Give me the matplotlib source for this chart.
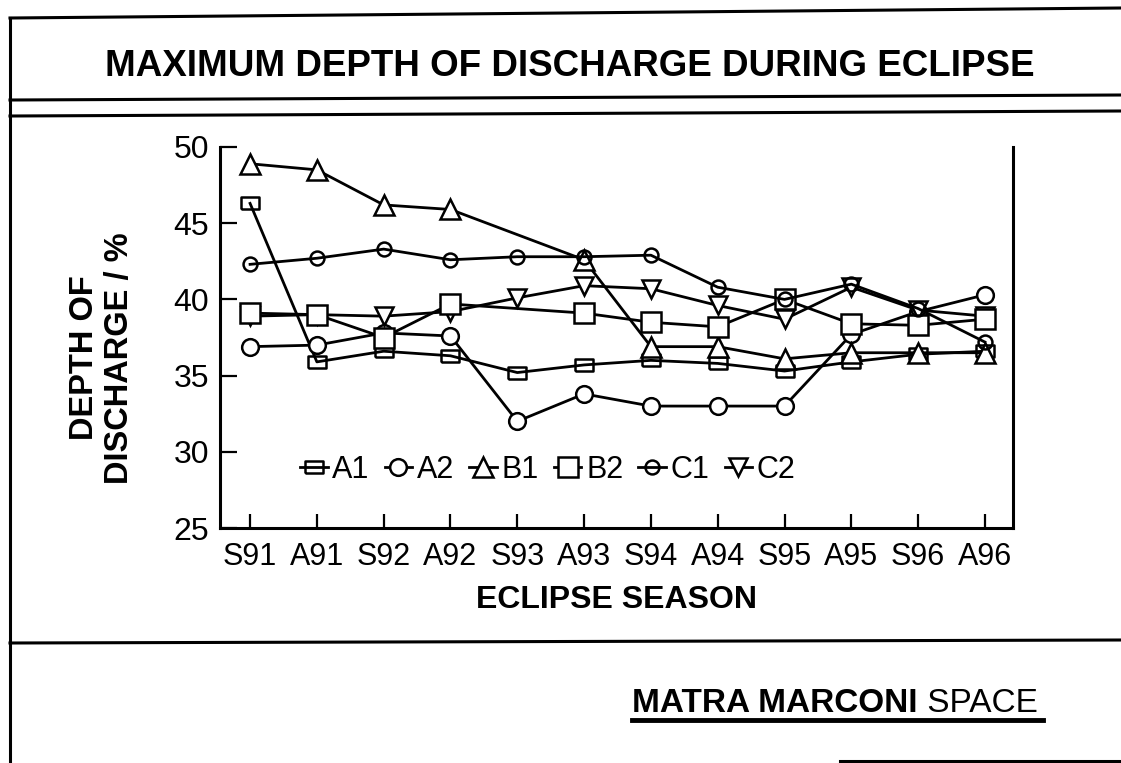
import matplotlib
matplotlib.use('Agg')
import matplotlib.pyplot as plt
from matplotlib.lines import Line2D
import numpy as np

plt.rcParams['font.family'] = ['Liberation Sans', 'DejaVu Sans']

seasons = ['S91', 'A91', 'S92', 'A92', 'S93', 'A93', 'S94', 'A94', 'S95', 'A95', 'S96', 'A96']
a1 = [46.3, 35.9, 36.6, 36.3, 35.2, 35.7, 36.0, 35.8, 35.3, 35.9, 36.4, 36.6]
a2 = [36.9, 37.0, 37.8, 37.6, 32.0, 33.8, 33.0, 33.0, 33.0, 37.7, 39.2, 40.3]
b1 = [48.9, 48.5, 46.2, 45.9, np.nan, 42.6, 36.9, 36.9, 36.1, 36.5, 36.5, 36.5]
b2 = [39.1, 39.0, 37.5, 39.7, np.nan, 39.1, 38.5, 38.2, 40.0, 38.4, 38.3, 38.7]
c1 = [42.3, 42.7, 43.3, 42.6, 42.8, 42.8, 42.9, 40.8, 40.0, 41.0, 39.4, 37.2]
c2 = [38.9, 39.0, 38.9, 39.2, 40.1, 40.9, 40.7, 39.6, 38.7, 40.8, 39.3, 38.9]

W, H = 1121, 763
fig = plt.figure(figsize=(W / 100, H / 100), dpi=100)

def fx(x):
    return x / W

def fy(y):
    return 1 - y / H

# axes box in pixels: left 220, right 1013, top 147, bottom 528
ax = fig.add_axes([fx(220), fy(528), (1013 - 220) / W, (528 - 147) / H])

rect = [(-1, -0.7), (1, -0.7), (1, 0.7), (-1, 0.7), (-1, -0.7)]
styles = [
    ('A1', a1, dict(marker=rect, ms=13, mfc='none', zorder=3)),
    ('A2', a2, dict(marker='o', ms=12, mfc='white', zorder=3)),
    ('B1', b1, dict(marker='^', ms=14, mfc='white', zorder=4)),
    ('B2', b2, dict(marker='s', ms=14, mfc='white', zorder=5)),
    ('C1', c1, dict(marker='o', ms=10, mfc='none', zorder=6)),
    ('C2', c2, dict(marker='v', ms=13, mfc='white', zorder=4)),
]

x = np.arange(len(seasons))
for name, vals, kw in styles:
    v = np.array(vals, dtype=float)
    ok = ~np.isnan(v)
    ax.plot(x[ok], v[ok], color='black', lw=2.0, mec='black', mew=1.8,
            label=name, **kw)

ax.set_xlim(-0.45, 11.42)
ax.set_ylim(25, 50)
ax.set_xticks(x)
ax.set_xticklabels(seasons)
ax.set_yticks([25, 30, 35, 40, 45, 50])
ax.tick_params(axis='both', direction='in', width=1.6, colors='black')
ax.tick_params(axis='y', length=12, pad=8, labelsize=23)
ax.tick_params(axis='x', length=10, pad=10, labelsize=22)
ax.spines['top'].set_visible(False)
for s in ['left', 'bottom', 'right']:
    ax.spines[s].set_linewidth(2.2)

ax.set_xlabel('ECLIPSE SEASON', fontsize=23, fontweight='bold', va='center')
ax.xaxis.set_label_coords(0.5, -(600 - 528) / 381)
ax.set_ylabel('DEPTH OF\nDISCHARGE / %', fontsize=23.5, fontweight='bold',
              va='center', linespacing=1.2)
ax.yaxis.set_label_coords((102 - 220) / 793, (528 - 358) / 381)

leg = ax.legend(loc='center left', bbox_to_anchor=((300 - 220) / 793, (528 - 470) / 381),
                ncol=6, frameon=False, fontsize=22, handlelength=0.9,
                handletextpad=0.15, columnspacing=0.5, borderpad=0, borderaxespad=0)

# page frame lines from the scanned slide
frame = [
    ((10, 1121), (18, 8)),
    ((10, 10), (18, 763)),
    ((10, 1121), (100, 95)),
    ((10, 1121), (116, 111)),
    ((10, 1121), (643, 640)),
    ((632, 1043), (720, 720)),
    ((840, 1121), (761, 761)),
]
for xs, ys in frame:
    lw = 3.5 if xs[0] == 632 else 2.2
    fig.add_artist(Line2D([fx(xs[0]), fx(xs[1])], [fy(ys[0]), fy(ys[1])],
                          transform=fig.transFigure, color='black', lw=lw))

fig.text(fx(570), fy(66), 'MAXIMUM DEPTH OF DISCHARGE DURING ECLIPSE',
         fontsize=26.5, fontweight='bold', ha='center', va='center')

t1 = fig.text(fx(632), fy(712), 'MATRA MARCONI', fontsize=24, fontweight='bold',
              ha='left', va='baseline')
fig.canvas.draw()
bb = t1.get_window_extent()
fig.text(bb.x1 / W, fy(712), ' SPACE', fontsize=24, ha='left', va='baseline')

fig.savefig('out.png', dpi=100)
